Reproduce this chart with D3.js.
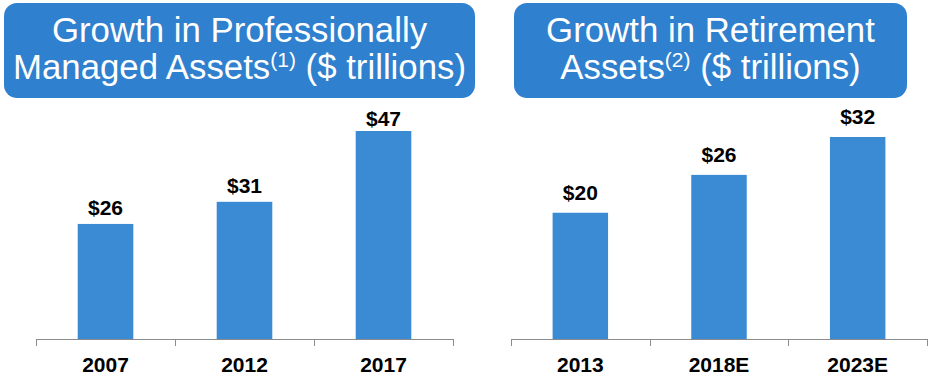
<!DOCTYPE html>
<html><head><meta charset="utf-8">
<script src="https://cdn.jsdelivr.net/npm/d3@7"></script>
<style>html,body{margin:0;padding:0;background:#fff;}svg{display:block;}</style>
</head><body>
<script>
const leftCategories = ["2007", "2012", "2017"];
const leftValues = [26, 31, 47];
const rightCategories = ["2013", "2018E", "2023E"];
const rightValues = [20, 26, 32];
const leftTitle = ["Growth in Professionally", "Managed Assets", "(1)", " ($ trillions)"];
const rightTitle = ["Growth in Retirement", "Assets", "(2)", " ($ trillions)"];

const W = 936, H = 381;
const svg = d3.select("body").append("svg").attr("width", W).attr("height", H);
const FONT = "Arial, 'Liberation Sans', sans-serif";
const boxColor = "#2F80CE", barColor = "#3A8BD3", axisColor = "#8C8C8C";

function panel(cfg) {
  const g = svg.append("g");
  g.append("rect").attr("x", cfg.box[0]).attr("y", 3).attr("width", cfg.box[1] - cfg.box[0]).attr("height", 95)
    .attr("rx", 13).attr("fill", boxColor);
  const cx = (cfg.box[0] + cfg.box[1]) / 2;
  const t = cfg.title;
  g.append("text").attr("x", cx).attr("y", 42).attr("text-anchor", "middle")
    .attr("font-family", FONT).attr("font-size", 34.8).attr("fill", "#fff").text(t[0]);
  const t2 = g.append("text").attr("x", cx).attr("y", 79).attr("text-anchor", "middle")
    .attr("font-family", FONT).attr("font-size", 34.8).attr("fill", "#fff");
  t2.append("tspan").text(t[1]);
  t2.append("tspan").attr("font-size", 21).attr("dy", -12).text(t[2]);
  t2.append("tspan").attr("dy", 12).text(t[3]);

  const x = d3.scaleBand().domain(cfg.cats).range(cfg.xr).paddingInner(0.6).paddingOuter(0.3);
  const y = d3.scaleLinear().domain([0, d3.max(cfg.vals)]).range([339, cfg.top]);
  const data = cfg.cats.map((c, i) => ({c, v: cfg.vals[i]}));

  g.selectAll(".bar").data(data).join("rect")
    .attr("x", d => x(d.c)).attr("width", x.bandwidth())
    .attr("y", d => y(d.v)).attr("height", d => y(0) - y(d.v)).attr("fill", barColor);

  g.selectAll(".val").data(data).join("text")
    .attr("x", d => x(d.c) + x.bandwidth() / 2)
    .attr("y", d => Math.max(y(d.v) - cfg.gap, cfg.minLabel))
    .attr("text-anchor", "middle").attr("font-family", FONT).attr("font-weight", "bold")
    .attr("font-size", 21).attr("fill", "#000").text(d => "$" + d.v);

  const ax = g.append("g");
  ax.append("line").attr("x1", cfg.xr[0]).attr("x2", cfg.xr[1]).attr("y1", 339.5).attr("y2", 339.5)
    .attr("stroke", axisColor).attr("stroke-width", 1);
  const bounds = cfg.cats.map(c => x(c) - x.step() * x.paddingInner() / 2).concat([cfg.xr[1]]);
  bounds[0] = cfg.xr[0];
  ax.selectAll("line.tk").data(bounds).join("line").attr("class", "tk")
    .attr("x1", d => Math.round(d) + 0.5).attr("x2", d => Math.round(d) + 0.5)
    .attr("y1", 339).attr("y2", 346).attr("stroke", axisColor);
  ax.selectAll("text").data(cfg.cats).join("text")
    .attr("x", d => x(d) + x.bandwidth() / 2).attr("y", 372)
    .attr("text-anchor", "middle").attr("font-family", FONT).attr("font-weight", "bold")
    .attr("font-size", 21).attr("fill", "#000").text(d => d);
}

panel({box: [4, 475], title: leftTitle, cats: leftCategories, vals: leftValues, xr: [36, 453], top: 131, gap: 9, minLabel: 126});
panel({box: [514, 907], title: rightTitle, cats: rightCategories, vals: rightValues, xr: [511, 927], top: 137, gap: 13, minLabel: 0});
</script>
</body></html>
